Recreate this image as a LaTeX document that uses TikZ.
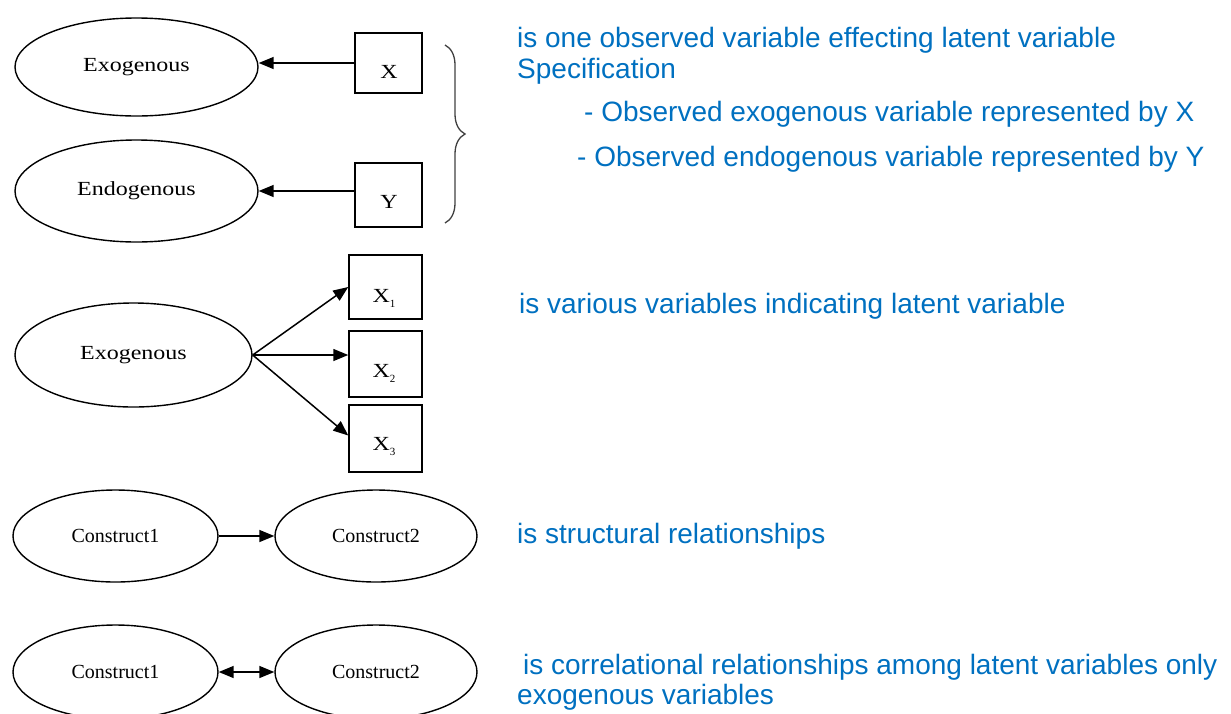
\documentclass[tikz,border=0pt]{standalone}
\usepackage{fontspec}
\usepackage{graphicx}
\setmainfont{Liberation Serif}
\newfontfamily\notefont{Liberation Sans}
\usetikzlibrary{shapes.geometric,arrows.meta,decorations.pathreplacing}
\definecolor{noteblue}{RGB}{0,112,192}
% slightly widened serif lettering used inside the diagram shapes
\newcommand\widetext[1]{\scalebox{1.2}[1]{#1}}
\newcommand\subidx[1]{{\fontsize{11}{11}\selectfont\raisebox{-5pt}{#1}}}

\begin{document}
\begin{tikzpicture}[x=1pt,y=-1pt,
  latent/.style={ellipse, draw, line width=1.4pt, inner sep=0pt,
                 font=\fontsize{20}{22}\selectfont},
  obs/.style={rectangle, draw, line width=1.5pt, inner sep=0pt},
  obslabel/.style={anchor=base, inner sep=0pt, font=\fontsize{20}{22}\selectfont},
  arr/.style={line width=1.5pt, -{Triangle[length=15pt,width=12pt]}},
  darr/.style={line width=1.5pt,
               {Triangle[length=15pt,width=12pt]}-{Triangle[length=15pt,width=12pt]}},
  note/.style={anchor=base west, text=noteblue, inner sep=0pt,
               font=\notefont\fontsize{28}{32}\selectfont},
  bracestyle/.style={line width=1.3pt, draw=black!75, decorate,
                     decoration={brace, amplitude=20pt}},
]
\useasboundingbox (0,0) rectangle (1231,713);

% --- single indicator: exogenous / endogenous ---
\node[latent, minimum width=243pt, minimum height=98pt] (exo) at (136.5,67) {\widetext{Exogenous}};
\node[latent, minimum width=243pt, minimum height=102pt] (endo) at (136.5,191) {\widetext{Endogenous}};
\node[obs, minimum width=67pt, minimum height=60pt] (X) at (388.5,63) {};
\node[obs, minimum width=67pt, minimum height=64pt] (Y) at (388.5,195) {};
\node[obslabel] (Xlab) at (389,78) {\widetext{X}};
\node[obslabel] (Ylab) at (389,208) {\widetext{Y}};
\draw[arr] (X.west) -- (X.west -| exo.east);
\draw[arr] (Y.west |- endo.east) -- (endo.east);

\coordinate (braceTop) at (445,45);
\coordinate (braceBot) at (445,223);
\draw[bracestyle] (braceTop) -- (braceBot);

% --- several indicators ---
\node[latent, minimum width=237pt, minimum height=104pt] (exoB) at (133.5,355) {\widetext{Exogenous}};
\node[obs, minimum width=73pt, minimum height=64pt] (X1) at (385.5,287) {};
\node[obs, minimum width=73pt, minimum height=66pt] (X2) at (385.5,364) {};
\node[obs, minimum width=73pt, minimum height=67pt] (X3) at (385.5,438.5) {};
\node[obslabel] (X1lab) at (384,302) {\widetext{X}\subidx{1}};
\node[obslabel] (X2lab) at (384,377) {\widetext{X}\subidx{2}};
\node[obslabel] (X3lab) at (384,450) {\widetext{X}\subidx{3}};
\draw[arr] (exoB.east) -- (X1.west);
\draw[arr] (exoB.east) -- (X2.west |- exoB.east);
\draw[arr] (exoB.east) -- ([yshift=3pt]X3.west);

% --- structural relationship ---
\node[latent, minimum width=205pt, minimum height=92pt] (c1) at (115.5,536) {Construct1};
\node[latent, minimum width=202pt, minimum height=92pt] (c2) at (376,536) {Construct2};
\draw[arr] (c1) -- (c2);

% --- correlational relationship ---
\node[latent, minimum width=205pt, minimum height=94pt] (c3) at (115.5,672) {Construct1};
\node[latent, minimum width=202pt, minimum height=94pt] (c4) at (376,672) {Construct2};
\draw[darr] (c3) -- (c4);

% --- explanations ---
\node[note] (n1) at (517,47) {is one observed variable effecting latent variable};
\node[note] (n2) at (517,78) {Specification};
\node[note] (n3) at (584,121) {- Observed exogenous variable represented by X};
\node[note] (n4) at (577,166) {- Observed endogenous variable represented by Y};
\node[note] (n5) at (519,313) {is various variables indicating latent variable};
\node[note] (n6) at (517,543) {is structural relationships};
\node[note] (n7) at (523,674) {is correlational relationships among latent variables only};
\node[note] (n8) at (517,704) {exogenous variables};
\end{tikzpicture}
\end{document}
